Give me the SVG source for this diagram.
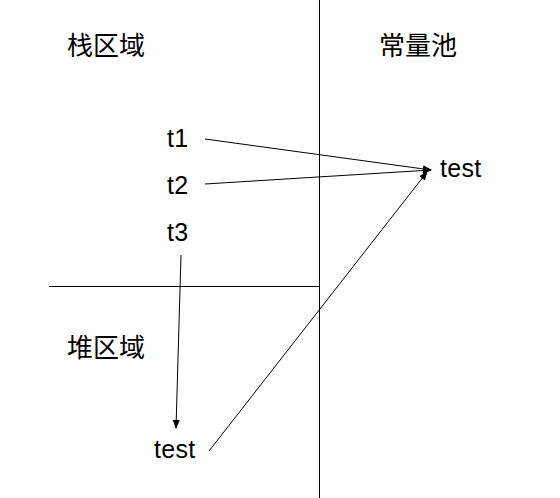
<svg xmlns="http://www.w3.org/2000/svg" width="560" height="498" viewBox="0 0 560 498">
<defs>
<style>
.cjk{font-family:"Noto Sans CJK SC","Noto Sans",sans-serif;font-size:26px;fill:#000}
.lbl{font-family:"Liberation Sans",Arial,sans-serif;font-size:25px;letter-spacing:0.3px;fill:#000}
.ln{stroke:#000;stroke-width:1;fill:none}
</style>
<marker id="ah" viewBox="0 0 10 10" refX="9" refY="5" markerWidth="9" markerHeight="9" orient="auto" markerUnits="userSpaceOnUse">
<path d="M0,1 L10,5 L0,9 z" fill="#000"/>
</marker>
</defs>
<rect width="560" height="498" fill="#fff"/>
<g id="dividers">
<line class="ln" x1="319.5" y1="0" x2="319.5" y2="498"/>
<line class="ln" x1="49" y1="286.5" x2="319.5" y2="286.5"/>
</g>
<g id="region-stack"><text class="cjk" x="67" y="55">栈区域</text></g>
<g id="region-pool"><text class="cjk" x="379" y="55">常量池</text></g>
<g id="region-heap"><text class="cjk" x="67" y="357">堆区域</text></g>
<g id="t1"><text class="lbl" x="167" y="147">t1</text></g>
<g id="t2"><text class="lbl" x="167" y="194">t2</text></g>
<g id="t3"><text class="lbl" x="167" y="241">t3</text></g>
<g id="test-pool"><text class="lbl" x="440" y="177">test</text></g>
<g id="test-heap"><text class="lbl" x="154" y="458">test</text></g>
<g id="connectors">
<line class="ln" x1="205" y1="139" x2="431" y2="170" marker-end="url(#ah)"/>
<line class="ln" x1="205" y1="184" x2="431" y2="170" marker-end="url(#ah)"/>
<line class="ln" x1="209" y1="451" x2="427" y2="172" marker-end="url(#ah)"/>
<line class="ln" x1="181" y1="255" x2="176" y2="428" marker-end="url(#ah)"/>
</g>
</svg>
